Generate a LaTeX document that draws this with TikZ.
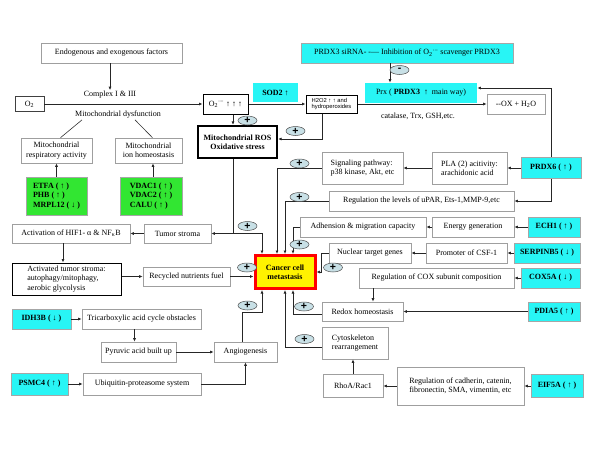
\documentclass[tikz,border=0pt]{standalone}
\usepackage{fontspec}
\setmainfont{Liberation Serif}
\newfontfamily\arialfam{Liberation Sans}
\usepackage{xcolor}
\usetikzlibrary{positioning,arrows.meta,shapes.geometric,calc}
\definecolor{cyanbox}{RGB}{40,245,245}
\definecolor{greenbox}{RGB}{50,230,50}
\definecolor{ovalfill}{RGB}{200,224,230}
\newcommand{\fs}{\fontsize{8}{9.4}\selectfont}
\newcommand{\up}{↑}
\newcommand{\dn}{↓}

\begin{document}
\begin{tikzpicture}[x=1pt, y=-1pt,
  box/.style={draw=gray!75, line width=0.6pt, fill=white, align=center, inner sep=1pt, font=\fs},
  lbox/.style={box, align=left},
  blk/.style={box, draw=black, line width=1pt},
  cy/.style={box, fill=cyanbox, draw=gray!70, font=\fs\bfseries},
  gr/.style={box, fill=greenbox, draw=gray!70, align=left, font=\fs\bfseries},
  lbl/.style={font=\fs, inner sep=1pt},
  ln/.style={line width=0.6pt, draw=black!80},
  arr/.style={-{Latex[length=3.5pt,width=3pt]}, line width=0.7pt, draw=black!85},
  sgn/.style={ellipse, draw=black!70, line width=0.5pt, fill=ovalfill, minimum width=19pt, minimum height=9pt,
    inner sep=0pt, text height=6pt, text depth=0pt, font=\arialfam\fontsize{10.5}{10.5}\selectfont\bfseries}
]
\useasboundingbox (0,0) rectangle (600,450);

% top left: mitochondria
\node[box, minimum width=141pt, minimum height=20pt] (endo) at (111.5,53) {Endogenous and exogenous factors};
\node[lbl] (cplx) at (110,95) {Complex I \& III};
\node[box, draw=black!75, minimum width=29pt, minimum height=15pt] (otwo) at (29.5,104) {O\textsubscript{2}};
\node[lbl] (dys) at (118,115) {Mitochondrial dysfunction};
\node[box, minimum width=71pt, minimum height=25pt] (resp) at (56.5,150.5) {Mitochondrial\\respiratory activity};
\node[box, minimum width=67pt, minimum height=25pt] (ion) at (148.5,150.5) {Mitochondrial\\ion homeostasis};
\node[gr, minimum width=61pt, minimum height=38pt] (etfa) at (56.5,196) {ETFA ( \up{} )\\PHB ( \up{} )\\MRPL12 ( \dn{} )};
\node[gr, minimum width=62pt, minimum height=38pt] (vdac) at (151,196) {VDAC1 ( \up{} )\\VDAC2 ( \up{} )\\CALU ( \up{} )};

% ROS
\node[blk, minimum width=45pt, minimum height=20pt] (osup) at (225.5,104) {O\textsubscript{2}\textsuperscript{·−} \up{} \up{} \up{}};
\node[cy, draw=none, minimum width=45pt, minimum height=19pt] (sod) at (275.5,92.5) {SOD2 \up{}};
\node[blk, minimum width=51pt, minimum height=18pt, align=left, font=\arialfam\fontsize{5.8}{6.6}\selectfont] (hperox) at (331.5,104) {H2O2 \up{} \up{} and\\hydroperoxides};
\node[cy, font=\fs, minimum width=212pt, minimum height=20pt] (sirna) at (407,53) {PRDX3 siRNA- -— Inhibition of O\textsubscript{2}\textsuperscript{·−} scavenger PRDX3};
\node[cy, draw=none, font=\fs, minimum width=112pt, minimum height=20pt] (prx) at (421,93) {Prx ( \textbf{PRDX3} ~\up{}~ main way)};
\node[box, minimum width=58pt, minimum height=20pt] (ox) at (516,104) {-{}-OX + H\textsubscript{2}O};
\node[lbl] (cat) at (418,116) {catalase, Trx, GSH,etc.};
\node[box, draw=black, line width=2.2pt, minimum width=79pt, minimum height=32pt, font=\fs\bfseries] (ros) at (237.5,142) {Mitochondrial ROS\\Oxidative stress};

% centre
\node[box, draw=red, line width=3pt, fill=yellow, minimum width=60pt, minimum height=33pt, font=\fs\bfseries] (cancer) at (285,272) {Cancer cell\\metastasis};

% right column
\node[lbox, minimum width=81pt, minimum height=32pt] (sig) at (362.5,168) {Signaling pathway:\\p38 kinase, Akt, etc};
\node[lbox, minimum width=75pt, minimum height=32pt] (pla) at (469.5,168) {PLA (2) acitivity:\\arachidonic acid};
\node[cy, minimum width=60pt, minimum height=21pt] (prdx6) at (551,168) {PRDX6 ( \up{} )};
\node[box, minimum width=185pt, minimum height=20pt] (upar) at (421.5,201) {Regulation the levels of uPAR, Ets-1,MMP-9,etc};
\node[box, minimum width=126pt, minimum height=20pt] (adh) at (363,227) {Adhension \& migration capacity};
\node[box, minimum width=82pt, minimum height=20pt] (energy) at (473,227) {Energy generation};
\node[cy, minimum width=52pt, minimum height=20pt] (ech1) at (554,227) {ECH1 ( \up{} )};
\node[box, minimum width=82pt, minimum height=20pt] (nuc) at (370,253) {Nuclear target genes};
\node[box, minimum width=81pt, minimum height=20pt] (prom) at (466.5,253) {Promoter of CSF-1};
\node[cy, minimum width=66pt, minimum height=20pt] (serp) at (547,253) {SERPINB5 ( \dn{} )};
\node[box, minimum width=155pt, minimum height=20pt] (cox) at (436.5,278) {Regulation of COX subunit composition};
\node[cy, minimum width=59pt, minimum height=20pt] (cox5a) at (550.5,278) {COX5A ( \dn{} )};
\node[box, minimum width=81pt, minimum height=19pt] (redox) at (362.5,311.5) {Redox homeostasis};
\node[cy, minimum width=52pt, minimum height=19pt] (pdia5) at (554,311.5) {PDIA5 ( \up{} )};
\node[lbox, minimum width=66pt, minimum height=32pt] (cyto) at (355,343) {Cytoskeleton\\rearrangement};
\node[box, minimum width=60pt, minimum height=23pt] (rho) at (353,386) {RhoA/Rac1};
\node[lbox, minimum width=127pt, minimum height=38pt] (cad) at (460.5,386) {Regulation of cadherin, catenin,\\fibronectin, SMA, vimentin, etc};
\node[cy, minimum width=52pt, minimum height=23pt] (eif) at (557,386) {EIF5A ( \up{} )};

% left column
\node[box, minimum width=118pt, minimum height=19pt] (hif) at (71,233.5) {Activation of HIF1- α \& NF\textsubscript{κ}B};
\node[box, minimum width=67pt, minimum height=19pt] (stroma) at (177.5,233.5) {Tumor stroma};
\node[lbox, draw=black, line width=1pt, minimum width=109pt, minimum height=32pt] (act) at (66.5,279) {Activated tumor stroma:\\autophagy/mitophagy,\\aerobic glycolysis};
\node[box, minimum width=87pt, minimum height=19pt] (recyc) at (186.5,276.5) {Recycled nutrients fuel};
\node[cy, minimum width=59pt, minimum height=20pt] (idh) at (41.5,319) {IDH3B ( \dn{} )};
\node[box, minimum width=119pt, minimum height=20pt] (tca) at (141.5,319) {Tricarboxylic acid cycle obstacles};
\node[box, minimum width=75pt, minimum height=20pt] (pyr) at (138.5,352) {Pyruvic acid built up};
\node[box, minimum width=63pt, minimum height=20pt] (angio) at (245.5,352) {Angiogenesis};
\node[cy, minimum width=57pt, minimum height=22pt] (psmc4) at (39.5,384) {PSMC4 ( \up{} )};
\node[box, minimum width=118pt, minimum height=22pt] (ubi) at (142,384) {Ubiquitin-proteasome system};

% connectors, top
\draw[arr] (endo.south -| cplx) -- (cplx.north);
\draw[arr] (otwo) -- (osup);
\draw[ln] ([xshift=-36pt]dys.south) -- ([xshift=4pt]resp.north);
\draw[ln] ([xshift=17pt]dys.south) -- ([xshift=4pt]ion.north);
\draw[arr] (etfa) -- (resp);
\draw[arr] ([xshift=2pt]vdac.north) -- ([xshift=4.5pt]ion.south);
\draw[arr] ([xshift=7.5pt]osup.south) -- ([xshift=-4.5pt]ros.north);
\draw[arr] (osup) -- (hperox);
\draw[arr] (hperox) -- (ox);
\draw[arr] ([xshift=-9.5pt]hperox.south) |- ([yshift=3pt]ros.east);
\draw[arr] ([xshift=-17pt]sirna.south) -- ([xshift=-31pt]prx.north);
\draw[arr] (prdx6.north) |- ([yshift=5pt]prx.east);

% connectors, right
\draw[arr] (prdx6) -- (pla);
\draw[arr] (pla) -- (sig);
\draw[arr] (sig.west) -| ([xshift=-8pt]cancer.north);
\draw[arr] (prdx6.south) |- (upar.east);
\draw[arr] (upar.west) -| (cancer.north);
\draw[arr] (ech1) -- (energy);
\draw[arr] (energy) -- (adh);
\draw[arr] (adh.west) -| ([xshift=8pt]cancer.north);
\draw[arr] (serp) -- (prom);
\draw[arr] (prom) -- (nuc);
\draw[arr] (nuc.west) -- ++(-7,0) |- (cancer.east);
\draw[arr] (cox5a) -- (cox);
\draw[arr] ([xshift=-63.5pt]cox.south) -- ([xshift=10.5pt]redox.north);
\draw[arr] (pdia5) -- (redox);
\draw[arr] ([yshift=-2.5pt]redox.west) -| ([xshift=8pt]cancer.south);
\draw[arr] ([yshift=-4pt]cyto.west) -| (cancer.south);
\draw[arr] (rho) -- (rho |- cyto.south);
\draw[arr] (eif) -- (cad);
\draw[arr] (cad) -- (rho);

% connectors, left
\coordinate (rosj) at ([xshift=-4.5pt]ros.south |- stroma.east);
\draw[arr] ([xshift=-4.5pt]ros.south) -- (rosj) -- (stroma.east);
\draw[arr] (rosj) -| ([xshift=-23pt]cancer.north);
\draw[arr] (stroma) -- (hif);
\draw[arr] ([xshift=-8pt]hif.south) -- ([xshift=-3.5pt]act.north);
\draw[arr] (act.east |- recyc) -- (recyc.west);
\draw[arr] (recyc.east) -- (recyc.east -| cancer.west);
\draw[arr] (idh) -- (tca);
\draw[arr] ([xshift=-7pt]tca.south) -- ([xshift=-4pt]pyr.north);
\draw[arr] (pyr) -- (angio);
\draw[arr] ([xshift=-3.5pt]angio.north) -- ++(0,-29) -| ([xshift=-23pt]cancer.south);
\draw[arr] (psmc4) -- (ubi);
\draw[arr] (ubi.east) -| (angio.south);

% signs
\node[sgn] (s1) at (247.5,120.5) {+};
\node[sgn] (s2) at (295.5,131) {+};
\node[sgn] (s3) at (299.5,163.5) {+};
\node[sgn] (s4) at (299.5,197) {+};
\node[sgn] (s5) at (299.5,244.5) {+};
\node[sgn] (s6) at (247.5,226) {+};
\node[sgn] (s7) at (247,267.5) {+};
\node[sgn] (s8) at (333,267.5) {+};
\node[sgn] (s9) at (304,306.5) {+};
\node[sgn] (s10) at (304.5,339) {+};
\node[sgn] (s11) at (247.5,305.5) {+};
\node[sgn, text height=3.6pt] (smin) at (399.5,70) {-};
\end{tikzpicture}
\end{document}
